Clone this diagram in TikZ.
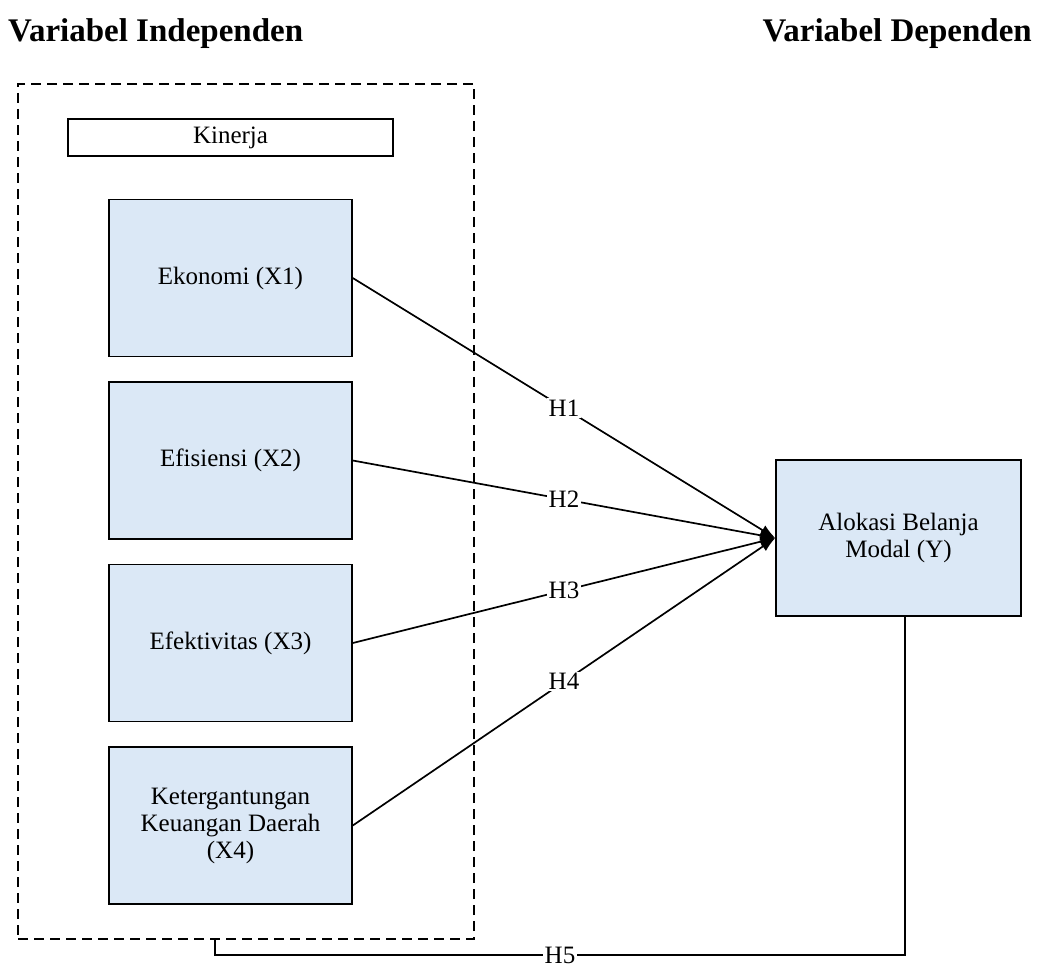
\documentclass[tikz,border=0pt]{standalone}
\usepackage{fontspec}
\setmainfont{Liberation Serif}
\usetikzlibrary{arrows.meta}
\definecolor{boxblue}{RGB}{219,232,246}
\tikzset{
  varbox/.style={draw=black, line width=1.5pt, fill=boxblue, minimum width=243pt, minimum height=157pt, align=center, inner sep=2pt, font=\fontsize{25}{27}\selectfont},
  conn/.style={line width=1.7pt, -{Latex[length=15pt,width=11pt]}},
  hlabel/.style={fill=white, inner sep=1.5pt, font=\fontsize{25}{27}\selectfont},
  title/.style={font=\fontsize{33}{36}\selectfont\bfseries, inner sep=0pt}
}
\begin{document}
\begin{tikzpicture}[x=1pt,y=-1pt]
\useasboundingbox (0,0) rectangle (1040,971);
\fill[white] (0,0) rectangle (1040,971);
\node[title, anchor=base west] (tl) at (8,42) {Variabel Independen};
\node[title, anchor=base east] (tr) at (1032,42) {Variabel Dependen};
\node[draw=black, dashed, dash pattern=on 10pt off 6pt, line width=1.3pt, minimum width=456pt, minimum height=855pt, inner sep=0pt] (grp) at (246,511.5) {};
\node[draw=black, line width=1.5pt, minimum width=325pt, minimum height=37pt, inner sep=0pt, font=\fontsize{25}{27}\selectfont] (kin) at (230.5,137.5) {Kinerja};
\node[varbox] (x1) at (230.5,278) {Ekonomi (X1)};
\node[varbox] (x2) at (230.5,460.5) {Efisiensi (X2)};
\node[varbox] (x3) at (230.5,643) {Efektivitas (X3)};
\node[varbox] (x4) at (230.5,825.5) {Ketergantungan\\Keuangan Daerah\\(X4)};
\node[varbox, minimum width=245pt, minimum height=156pt] (y) at (898.5,538) {Alokasi Belanja\\Modal (Y)};
\draw[conn] (x1.east) -- node[hlabel, pos=0.5] (h1) {H1} (y.west);
\draw[conn] (x2.east) -- node[hlabel, pos=0.5] (h2) {H2} (y.west);
\draw[conn] (x3.east) -- node[hlabel, pos=0.5] (h3) {H3} (y.west);
\draw[conn] (x4.east) -- node[hlabel, pos=0.5] (h4) {H4} (y.west);
\coordinate (ys) at ([xshift=6.5pt]y.south);
\coordinate (gs) at ([xshift=-31pt]grp.south);
\draw[line width=1.7pt] (ys) -- (ys |- 0,955) -- node[hlabel, pos=0.5] (h5) {H5} (gs |- 0,955) -- (gs);
\end{tikzpicture}
\end{document}
